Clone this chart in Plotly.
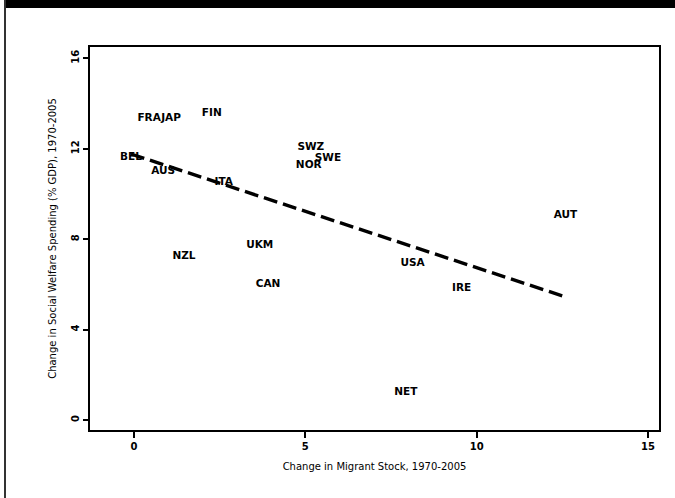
import numpy as np
import plotly.graph_objects as go

countries = ["FRA", "JAP", "FIN", "BEL", "AUS", "ITA", "SWZ", "NOR", "SWE",
             "AUT", "UKM", "NZL", "CAN", "USA", "IRE", "NET"]
migrant_change = [0.44, 1.08, 2.27, -0.09, 0.85, 2.62, 5.16, 5.10, 5.66,
                  12.59, 3.67, 1.46, 3.91, 8.13, 9.56, 7.93]
welfare_change = [13.36, 13.36, 13.58, 11.64, 11.02, 10.53, 12.04, 11.28, 11.59,
                  9.07, 7.74, 7.26, 6.02, 6.95, 5.84, 1.24]
x_ticks = [0, 5, 10, 15]
y_ticks = [0, 4, 8, 12, 16]

# linear fit over the data range
slope, intercept = np.polyfit(migrant_change, welfare_change, 1)
fit_x = [min(migrant_change), max(migrant_change)]
fit_y = [intercept + slope * v for v in fit_x]

FONT = "DejaVu Sans"

fig = go.Figure()
fig.add_trace(go.Scatter(
    x=fit_x, y=fit_y, mode="lines",
    line=dict(color="black", width=3.4, dash="14px,6px"),
    showlegend=False, hoverinfo="skip"))
fig.add_trace(go.Scatter(
    x=migrant_change, y=welfare_change, mode="text", text=countries,
    textposition="middle center",
    textfont=dict(family=FONT, size=10.5, color="black", weight="bold"),
    showlegend=False, hoverinfo="skip"))

W, H = 675, 498
L, R, T, B = 90, 16, 47, 68
pw, ph = W - L - R, H - T - B

def px_x(p):
    return (p - L) / pw

def px_y(p):
    return 1 - (p - T) / ph

fig.update_layout(
    width=W, height=H,
    margin=dict(l=L, r=R, t=T, b=B),
    paper_bgcolor="white", plot_bgcolor="white",
    font=dict(family=FONT, size=10, color="black"),
    xaxis=dict(range=[-1.284, 15.32], tickvals=x_ticks, ticks="outside",
               ticklen=6, tickwidth=1.8, tickcolor="black",
               showline=True, linecolor="black", linewidth=2, mirror=True,
               showgrid=False, zeroline=False,
               tickfont=dict(family=FONT, size=10, weight="bold"),
               title=dict(text="Change in Migrant Stock, 1970-2005",
                          font=dict(family=FONT, size=10), standoff=12)),
    yaxis=dict(range=[-0.44, 16.5], tickvals=y_ticks, ticks="outside",
               ticklen=5, tickwidth=1.8, tickcolor="black", tickangle=-90,
               showline=True, linecolor="black", linewidth=2, mirror=True,
               showgrid=False, zeroline=False,
               tickfont=dict(family=FONT, size=10, weight="bold"),
               title=dict(text="Change in Social Welfare Spending (% GDP), 1970-2005",
                          font=dict(family=FONT, size=10), standoff=12)),
    shapes=[
        dict(type="rect", xref="paper", yref="paper",
             x0=px_x(6), x1=px_x(675), y0=px_y(8), y1=px_y(0),
             fillcolor="black", line=dict(width=0), layer="above"),
        dict(type="line", xref="paper", yref="paper",
             x0=px_x(5), x1=px_x(5), y0=px_y(0), y1=px_y(498),
             line=dict(color="#333333", width=2), layer="above"),
    ],
)

fig.write_html("out.html")
